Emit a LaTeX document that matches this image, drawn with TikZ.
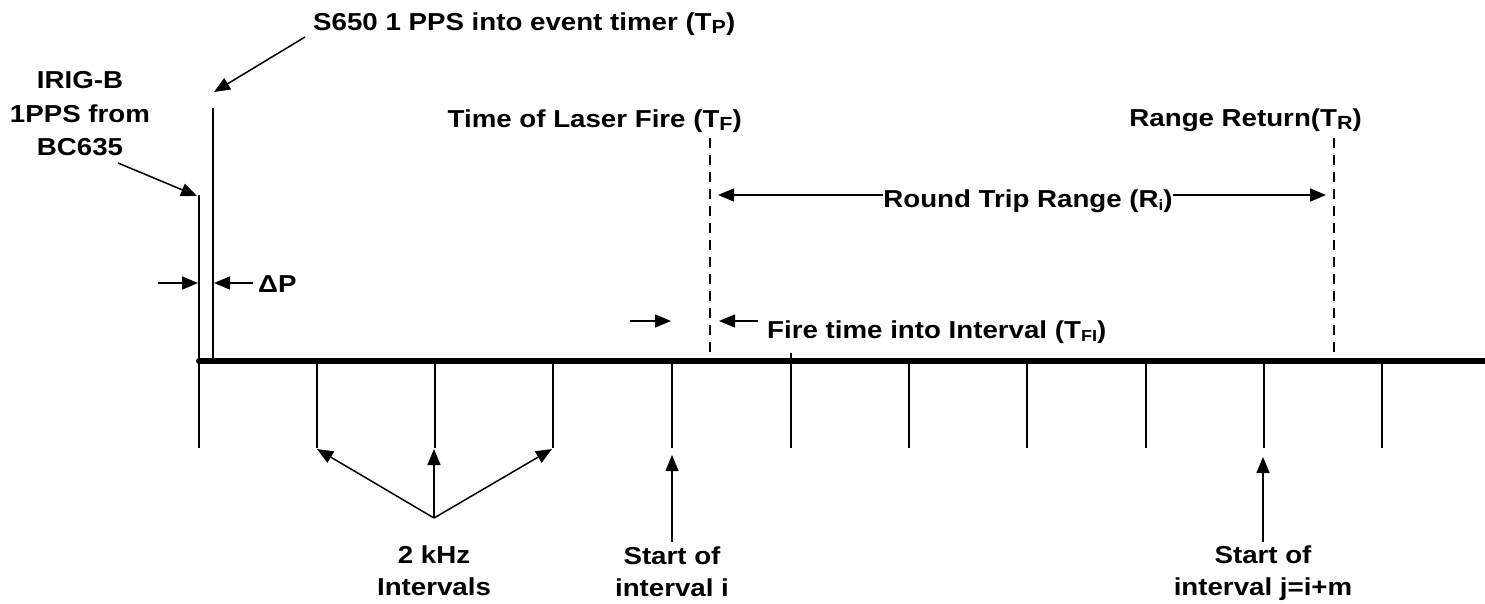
\documentclass[tikz,border=0pt]{standalone}
\usepackage{fontspec}
\setmainfont{Liberation Sans}
\newfontfamily\lblfont{Liberation Sans}[FakeStretch=1.13]
\usetikzlibrary{arrows.meta}
\newcommand\lowsub[2][19]{\raisebox{-0.3ex}{\fontsize{#1}{#1}\selectfont #2}}
\begin{document}
\begin{tikzpicture}[x=1pt,y=-1pt,
  lbl/.style={font=\lblfont\fontsize{24.5}{30}\selectfont\bfseries, inner sep=0pt},
  fine/.style={line width=1.5pt},
  axisline/.style={line width=6pt, line cap=round},
  dashline/.style={line width=2pt, dash pattern=on 10pt off 7pt},
  arr/.style={fine, -{Triangle[length=16pt,width=13pt]}}]
\useasboundingbox (0,0) rectangle (1485,603);
% axis
\coordinate (a0) at (199,361);
\coordinate (a1) at (1487,361);
\draw[axisline] (a0) -- (a1);
% 1PPS lines
\coordinate (irigTop) at (199,195);
\coordinate (irigBot) at (199,448);
\draw[fine] (irigTop) -- (irigBot);
\coordinate (s650Top) at (213,108);
\coordinate (s650Bot) at (213,361);
\draw[fine] (s650Top) -- (s650Bot);
% interval ticks
\foreach \i/\x in {1/317,2/435,3/553,4/672,6/909,7/1027,8/1146,9/1264,10/1382}{
  \coordinate (t\i top) at (\x,361);
  \coordinate (t\i) at (\x,448);
  \draw[fine] (t\i top) -- (t\i);
}
\coordinate (t5top) at (791,353);
\coordinate (t5) at (791,448);
\draw[fine] (t5top) -- (t5);
% dashed lines
\coordinate (tfTop) at (710,138);
\coordinate (tfBot) at (710,361);
\draw[dashline] (tfTop) -- (tfBot);
\coordinate (trTop) at (1334,138);
\coordinate (trBot) at (1334,361);
\draw[dashline] (trTop) -- (trBot);
% top labels
\node[lbl, anchor=base west] (s650) at (313,30) {S650 1 PPS into event timer (T\lowsub{P})};
\coordinate (s650tail) at (305,37);
\coordinate (s650tip) at (214,92);
\draw[arr] (s650tail) -- (s650tip);
\node[lbl, anchor=base] (irig1) at (80,88) {IRIG-B};
\node[lbl, anchor=base] (irig2) at (80,122) {1PPS from};
\node[lbl, anchor=base] (irig3) at (80,155) {BC635};
\coordinate (irigtail) at (118,163);
\coordinate (irigtip) at (197,196);
\draw[arr] (irigtail) -- (irigtip);
\node[lbl, anchor=base east] (tf) at (742,127) {Time of Laser Fire (T\lowsub{F})};
\node[lbl, anchor=base east] (tr) at (1362,126) {Range Return(T\lowsub{R})};
% round trip
\node[lbl, anchor=base] (rt) at (1028,207) {Round Trip Range (R\lowsub[15]{i})};
\coordinate (rtL) at (718,195);
\coordinate (rtR) at (1326,195);
\draw[arr] (rt.west |- rtL) -- (rtL);
\draw[arr] (rt.east |- rtR) -- (rtR);
% delta P
\coordinate (dpL0) at (158,283);
\coordinate (dpL) at (198,283);
\coordinate (dpR0) at (253,283);
\coordinate (dpR) at (214,283);
\draw[arr] (dpL0) -- (dpL);
\draw[arr] (dpR0) -- (dpR);
\node[lbl, anchor=base west] (dp) at (258,292) {ΔP};
% fire time into interval
\coordinate (fiL0) at (630,321);
\coordinate (fiL) at (671,321);
\coordinate (fiR0) at (758,321);
\coordinate (fiR) at (719,321);
\draw[arr] (fiL0) -- (fiL);
\draw[arr] (fiR0) -- (fiR);
\node[lbl, anchor=base west] (fi) at (767,338) {Fire time into Interval (T\lowsub[16]{FI})};
% 2 kHz intervals
\node[lbl, anchor=base] (khz1) at (434,563) {2 kHz};
\node[lbl, anchor=base] (khz2) at (434,595) {Intervals};
\coordinate (khzJ) at (434,518);
\coordinate (k1) at (317,449);
\coordinate (k2) at (434,449);
\coordinate (k3) at (552,449);
\draw[arr] (khzJ) -- (k1);
\draw[arr] (khzJ) -- (k2);
\draw[arr] (khzJ) -- (k3);
% start of interval i
\node[lbl, anchor=base] (si1) at (672,564) {Start of};
\node[lbl, anchor=base] (si2) at (672,596) {interval i};
\coordinate (siTail) at (672,542);
\coordinate (siTip) at (672,455);
\draw[arr] (siTail) -- (siTip);
% start of interval j
\node[lbl, anchor=base] (sj1) at (1263,563) {Start of};
\node[lbl, anchor=base] (sj2) at (1263,595) {interval j=i+m};
\coordinate (sjTail) at (1263,542);
\coordinate (sjTip) at (1263,457);
\draw[arr] (sjTail) -- (sjTip);
\end{tikzpicture}
\end{document}
